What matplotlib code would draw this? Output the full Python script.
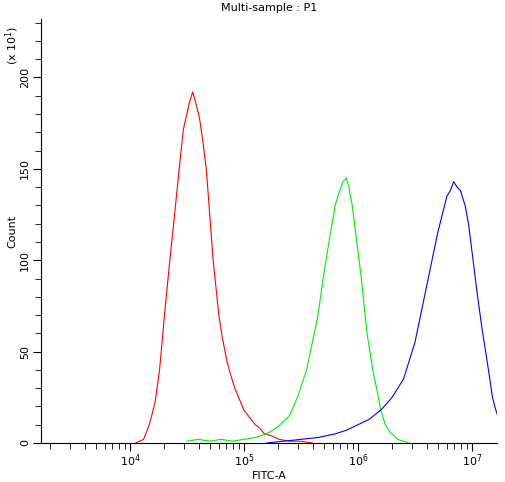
import matplotlib
matplotlib.use("Agg")
import matplotlib.pyplot as plt
import numpy as np

red_logx = [4.05,4.12,4.17,4.22,4.26,4.30,4.35,4.40,4.44,4.47,4.50,4.52,4.55,4.57,4.59,4.61,4.64,4.67,4.70,4.73,4.76,4.78,4.81,4.85,4.88,4.92,4.96,5.00,5.05,5.10,5.14,5.18,5.24,5.31,5.40,5.49,5.60]
red_y    = [0,2,10,22,40,68,100,130,155,172,180,186,192,188,183,178,165,150,125,100,82,70,58,45,38,30,24,18,14,10,8,5,4,2,1,1,0]
green_logx = [4.50,4.60,4.70,4.80,4.90,5.00,5.10,5.20,5.30,5.40,5.47,5.55,5.60,5.65,5.69,5.72,5.76,5.80,5.84,5.87,5.90,5.92,5.95,5.97,6.00,6.03,6.06,6.08,6.11,6.13,6.17,6.20,6.24,6.28,6.35,6.45]
green_y    = [1,2,1,2,1,2,3,5,9,15,25,40,55,70,88,100,115,130,138,143,145,140,130,120,105,90,72,60,48,40,28,18,10,6,2,0]
blue_logx = [5.20,5.35,5.50,5.65,5.80,5.90,6.00,6.10,6.20,6.26,6.30,6.35,6.40,6.45,6.50,6.55,6.60,6.65,6.70,6.74,6.78,6.81,6.84,6.87,6.90,6.94,6.97,7.01,7.05,7.09,7.12,7.15,7.18,7.21,7.23]
blue_y    = [0,1,2,3,5,7,10,13,18,22,25,30,35,45,55,70,85,100,115,125,135,138,143,140,138,130,120,100,80,62,50,38,25,18,14]

fig = plt.figure(figsize=(5.06,4.82), dpi=100)
ax = fig.add_axes([41/506, 1-443/482, 456/506, 424/482])
for lx, y, c in [(red_logx, red_y, 'red'), (green_logx, green_y, '#00ee00'), (blue_logx, blue_y, 'blue')]:
    ax.plot(10**np.array(lx), y, color=c, lw=0.8)
ax.set_xscale('log')
ax.set_xlim(10**3.22, 10**7.22)
ax.set_ylim(0, 232)
ax.set_yticks([0,50,100,150,200])
ax.set_yticks(np.arange(0,231,10), minor=True)
ax.tick_params(axis='y', which='major', length=6, labelsize=8, labelrotation=90, pad=2)
ax.tick_params(axis='y', which='minor', length=4)
ax.tick_params(axis='x', which='major', length=6, labelsize=8, pad=1)
ax.tick_params(axis='x', which='minor', length=4)
for lab in ax.get_yticklabels():
    lab.set_va('center')
ax.spines['top'].set_visible(False)
ax.spines['right'].set_visible(False)
ax.set_xlabel('FITC-A', fontsize=8, labelpad=1)
ax.set_ylabel('Count', fontsize=8, labelpad=2)
ax.set_title('Multi-sample : P1', fontsize=8, pad=6)
fig.text(12/506, 1-45/482, r'(x 10$^1$)', rotation=90, fontsize=8, ha='center', va='center')
fig.savefig('out.png', dpi=100)
